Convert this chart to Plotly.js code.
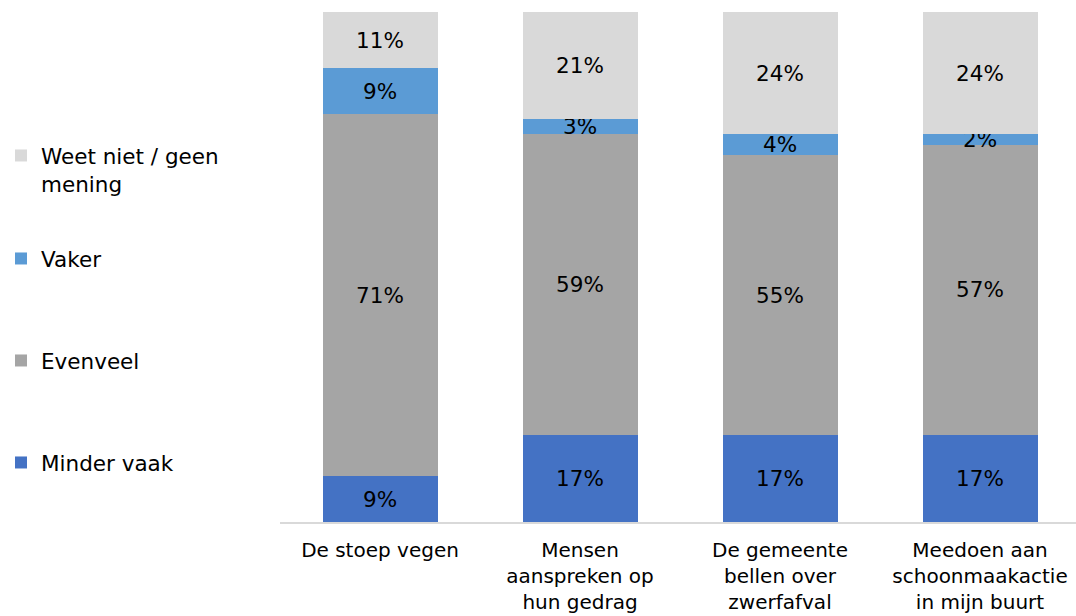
<!DOCTYPE html>
<html>
<head>
<meta charset="utf-8">
<script src="https://cdn.plot.ly/plotly-3.0.1.min.js"></script>
<style>html,body{margin:0;padding:0;background:#fff;}#chart{width:1076px;height:616px;}</style>
</head>
<body>
<div id="chart"></div>
<script>
const categories = ["De stoep vegen", "Mensen<br>aanspreken op<br>hun gedrag", "De gemeente<br>bellen over<br>zwerfafval", "Meedoen aan<br>schoonmaakactie<br>in mijn buurt"];
const minderVaak = [9, 17, 17, 17];
const evenveel = [71, 59, 55, 57];
const vaker = [9, 3, 4, 2];
const weetNiet = [11, 21, 24, 24];

const seriesNames = ["Minder vaak", "Evenveel", "Vaker", "Weet niet / geen<br>mening"];
const seriesValues = [minderVaak, evenveel, vaker, weetNiet];
const seriesColors = ["#4472C4", "#A5A5A5", "#5B9BD5", "#D9D9D9"];
const legendIds = ["legend4", "legend3", "legend2", "legend"];

const FONT = "DejaVu Sans, Verdana, sans-serif";
const FS = 21.5;
const TICK_FS = 20;

const traces = seriesValues.map((vals, i) => ({
  type: "bar",
  name: seriesNames[i],
  x: [0, 1, 2, 3],
  y: vals,
  marker: {color: seriesColors[i], line: {width: 0}},
  text: vals.map(v => v + "%"),
  textposition: "inside",
  insidetextanchor: "middle",
  textangle: 0,
  constraintext: "none",
  textfont: {family: FONT, size: FS, color: "#000000"},
  legend: legendIds[i],
  hoverinfo: "skip"
}));

const legendX = -279 / 796;
function legendAt(centerPx) {
  const top = centerPx - 20;
  return {
    x: legendX,
    xanchor: "left",
    y: (522 - top) / 510,
    yanchor: "top",
    valign: "top",
    font: {family: FONT, size: FS, color: "#000000"},
    bgcolor: "rgba(0,0,0,0)"
  };
}

const layout = {
  width: 1076,
  height: 616,
  margin: {l: 280, r: 0, t: 12, b: 94},
  paper_bgcolor: "#ffffff",
  plot_bgcolor: "#ffffff",
  barmode: "stack",
  bargap: 0.425,
  font: {family: FONT, size: FS, color: "#000000"},
  xaxis: {
    range: [-0.5, 3.48],
    tickvals: [0, 1, 2, 3],
    ticktext: categories,
    showgrid: false,
    zeroline: false,
    showline: true,
    linecolor: "#D9D9D9",
    linewidth: 2,
    ticks: "",
    ticklabelstandoff: 9,
    tickfont: {family: FONT, size: TICK_FS, color: "#000000"},
    fixedrange: true
  },
  yaxis: {
    range: [0, 100],
    visible: false,
    fixedrange: true
  },
  showlegend: true,
  legend: legendAt(155),
  legend2: legendAt(258),
  legend3: legendAt(360),
  legend4: legendAt(462)
};

Plotly.newPlot("chart", traces, layout, {displayModeBar: false, staticPlot: true});
</script>
</body>
</html>
